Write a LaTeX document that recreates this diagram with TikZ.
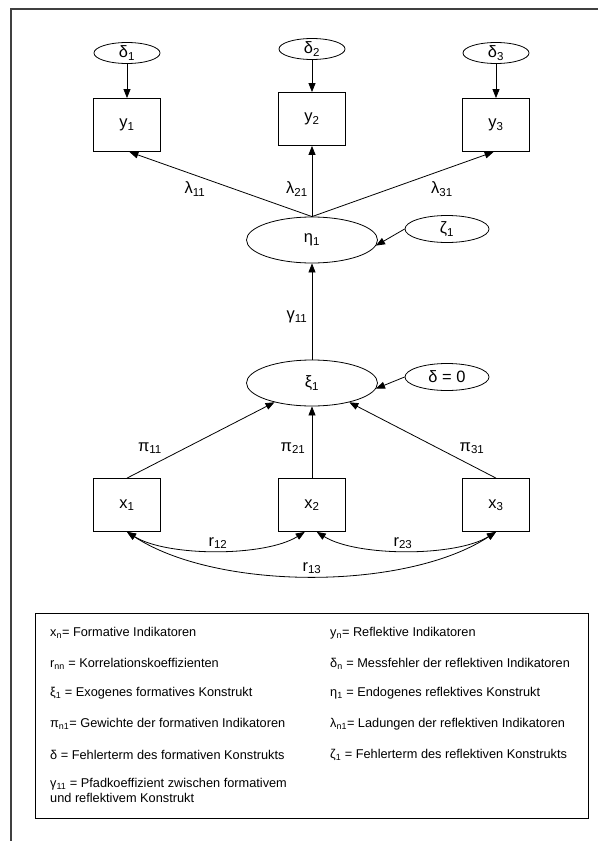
\documentclass[tikz,border=0pt]{standalone}
\usepackage{fontspec}
\setmainfont{Liberation Sans}
\usetikzlibrary{arrows.meta,shapes.geometric}
\begin{document}
\begin{tikzpicture}[x=1bp,y=-1bp,
  every node/.style={font=\fontsize{16.5}{19}\selectfont, inner sep=0pt},
  box/.style={draw, line width=0.8bp, minimum width=67bp, minimum height=53bp},
  lat/.style={draw, ellipse, line width=0.8bp, minimum width=131bp, minimum height=46bp},
  err/.style={draw, ellipse, line width=0.8bp, minimum width=66bp, minimum height=21bp},
  errb/.style={draw, ellipse, line width=0.8bp, minimum width=84bp, minimum height=27bp},
  arr/.style={-{Triangle[length=9bp,width=7bp]}, line width=0.8bp},
  darr/.style={{Triangle[length=9bp,width=7bp]}-{Triangle[length=9bp,width=7bp]}, line width=0.8bp},
  leg/.style={anchor=west, align=left, font=\fontsize{12.8}{15.5}\selectfont}]
\useasboundingbox (0,0) rectangle (598,841);
% outer frame
\draw[line width=1.2bp, black!75] (11,841) -- (11,9) -- (598,9);
% error terms of y
\node[err] (d1) at (127,53) {δ\textsubscript{1}};
\node[err] (d2) at (312,49) {δ\textsubscript{2}};
\node[err] (d3) at (496,53) {δ\textsubscript{3}};
% reflective indicators
\node[box] (y1) at (127,125) {y\textsubscript{1}};
\node[box] (y2) at (312,119) {y\textsubscript{2}};
\node[box] (y3) at (496,125) {y\textsubscript{3}};
% constructs
\node[lat] (eta) at (312,240) {η\textsubscript{1}};
\node[lat] (xi) at (312,383) {ξ\textsubscript{1}};
\node[errb] (z1) at (447,229) {ζ\textsubscript{1}};
\node[errb] (d0) at (447,377) {δ = 0};
% formative indicators
\node[box] (x1) at (127,505) {x\textsubscript{1}};
\node[box] (x2) at (312,505) {x\textsubscript{2}};
\node[box] (x3) at (496,505) {x\textsubscript{3}};
% arrows
\draw[arr] (d1) -- (y1);
\draw[arr] (d2) -- (y2);
\draw[arr] (d3) -- (y3);
\draw[arr] (eta.north) -- (y1.-85);
\draw[arr] (eta.north) -- (y2);
\draw[arr] (eta.north) -- (y3.-95);
\draw[arr] (z1.west) -- (eta.-5);
\draw[arr] (d0.west) -- (xi.-5);
\draw[arr] (xi) -- (eta);
\draw[arr] (x1.north) -- (xi);
\draw[arr] (x2) -- (xi);
\draw[arr] (x3.north) -- (xi);
\draw[darr] (x1.south) .. controls +(40,25) and +(-40,25) .. (x2.-105);
\draw[darr] (x2.-80) .. controls +(40,25) and +(-40,25) .. (x3.south);
\draw[darr] (x1.south) .. controls +(90,59) and +(-90,59) .. (x3.south);
% labels
\node (l11) at (195,189) {λ\textsubscript{11}};
\node (l21) at (297,189) {λ\textsubscript{21}};
\node (l31) at (442,189) {λ\textsubscript{31}};
\node (g11) at (297,317) {γ\textsubscript{11}};
\node (p11) at (150,448) {π\textsubscript{11}};
\node (p21) at (293,448) {π\textsubscript{21}};
\node (p31) at (472,448) {π\textsubscript{31}};
\node (r12) at (218,543) {r\textsubscript{12}};
\node (r23) at (403,543) {r\textsubscript{23}};
\node (r13) at (312,568) {r\textsubscript{13}};
% legend
\draw[line width=0.8bp] (35,613) rectangle (588,818);
\node[leg] (e1) at (50,633) {x\textsubscript{n}= Formative Indikatoren};
\node[leg] (e2) at (50,664) {r\textsubscript{nn} = Korrelationskoeffizienten};
\node[leg] (e3) at (50,693) {ξ\textsubscript{1} = Exogenes formatives Konstrukt};
\node[leg] (e4) at (50,724) {π\textsubscript{n1}= Gewichte der formativen Indikatoren};
\node[leg] (e5) at (50,755) {δ = Fehlerterm des formativen Konstrukts};
\node[leg, anchor=north west] (e6) at (50,778) {γ\textsubscript{11} = Pfadkoeffizient zwischen formativem\\und reflektivem Konstrukt};
\node[leg] (f1) at (330,633) {y\textsubscript{n}= Reflektive Indikatoren};
\node[leg] (f2) at (330,664) {δ\textsubscript{n} = Messfehler der reflektiven Indikatoren};
\node[leg] (f3) at (330,693) {η\textsubscript{1} = Endogenes reflektives Konstrukt};
\node[leg] (f4) at (330,724) {λ\textsubscript{n1}= Ladungen der reflektiven Indikatoren};
\node[leg] (f5) at (330,755) {ζ\textsubscript{1} = Fehlerterm des reflektiven Konstrukts};
\end{tikzpicture}
\end{document}
